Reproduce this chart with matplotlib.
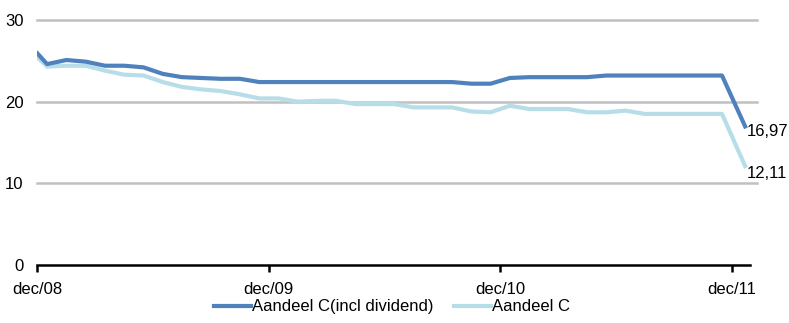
import matplotlib
matplotlib.use("Agg")
import matplotlib.pyplot as plt

# months since dec/08
months = [0, 0.5, 1.5, 2.5, 3.5, 4.5, 5.5, 6.5, 7.5, 8.5, 9.5, 10.5, 11.5, 12.5,
          13.5, 14.5, 15.5, 16.5, 17.5, 18.5, 19.5, 20.5, 21.5, 22.5, 23.5, 24.5,
          25.5, 26.5, 27.5, 28.5, 29.5, 30.5, 31.5, 32.5, 33.5, 34.5, 35.5, 36.7]
incl_dividend = [25.9, 24.6, 25.1, 24.9, 24.4, 24.4, 24.2, 23.4, 23.0, 22.9, 22.8,
                 22.8, 22.4, 22.4, 22.4, 22.4, 22.4, 22.4, 22.4, 22.4, 22.4, 22.4,
                 22.4, 22.2, 22.2, 22.9, 23.0, 23.0, 23.0, 23.0, 23.2, 23.2, 23.2,
                 23.2, 23.2, 23.2, 23.2, 16.97]
aandeel = [25.4, 24.3, 24.4, 24.4, 23.8, 23.3, 23.2, 22.4, 21.8, 21.5, 21.3, 20.9,
           20.4, 20.4, 20.0, 20.1, 20.1, 19.7, 19.7, 19.7, 19.3, 19.3, 19.3, 18.8,
           18.7, 19.5, 19.1, 19.1, 19.1, 18.7, 18.7, 18.9, 18.5, 18.5, 18.5, 18.5,
           18.5, 12.11]
tick_pos = [0, 12, 24, 36]
tick_labels = ["dec/08", "dec/09", "dec/10", "dec/11"]
series_names = ["Aandeel C(incl dividend)", "Aandeel C"]
end_labels = ["16,97", "12,11"]

plt.rcParams['font.family'] = ['Liberation Sans', 'DejaVu Sans']
FS = 12
fig = plt.figure(figsize=(7.89, 3.23), dpi=100)
ax = fig.add_axes([0.0475, 0.1796, 0.903, 0.7585])

c1, c2 = "#4f81bd", "#b7dee8"
l1, = ax.plot(months, incl_dividend, color=c1, lw=3, solid_joinstyle='round', zorder=3)
l2, = ax.plot(months, aandeel, color=c2, lw=3, solid_joinstyle='round', zorder=2)

ax.set_ylim(0, 30)
ax.set_xlim(0, 36.95)
ax.set_yticks([0, 10, 20, 30])
for y in [10, 20, 30]:
    ax.axhline(y, color="#c0c0c0", lw=1.8, zorder=1, xmax=1.01, clip_on=False)

for s in ["top", "right", "left"]:
    ax.spines[s].set_visible(False)
ax.spines["bottom"].set_linewidth(1.8)
ax.spines["bottom"].set_color("black")
ax.set_xticks(tick_pos)
ax.set_xticklabels(tick_labels)
ax.tick_params(axis="x", direction="out", length=5, width=1.8, labelsize=FS, pad=7)
ax.tick_params(axis="y", length=0, labelsize=FS, pad=10)

ax.annotate(end_labels[0], (months[-1], incl_dividend[-1]), xytext=(1, -4),
            textcoords="offset points", fontsize=FS, va="center", ha="left",
            annotation_clip=False)
ax.annotate(end_labels[1], (months[-1], aandeel[-1]), xytext=(1, -5),
            textcoords="offset points", fontsize=FS, va="center", ha="left",
            annotation_clip=False)

fig.legend([l1, l2], series_names, loc="lower center", bbox_to_anchor=(0.497, -0.02),
           ncol=2, frameon=False, fontsize=FS, handlelength=2.2, handletextpad=0.1,
           columnspacing=1.2)

fig.savefig("out.png", dpi=100)
